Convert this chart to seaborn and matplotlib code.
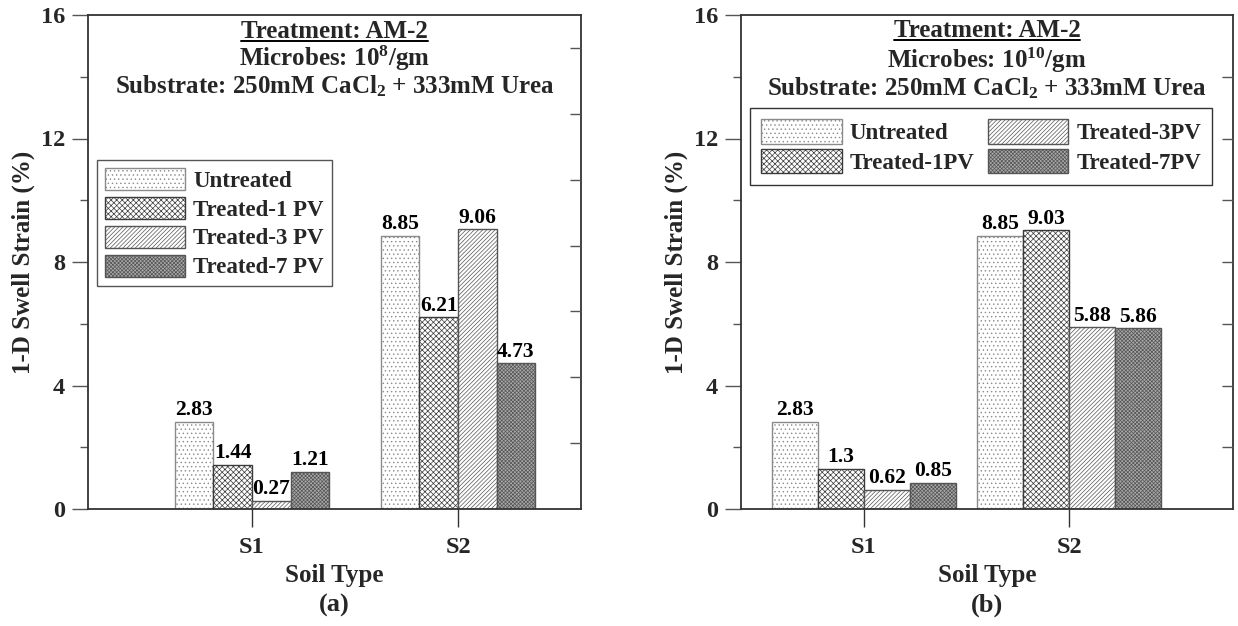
import matplotlib
matplotlib.use('Agg')
import matplotlib.pyplot as plt
import seaborn as sns
import pandas as pd
from matplotlib.lines import Line2D
from matplotlib.ticker import MultipleLocator, FixedLocator

# ---------------- data ----------------
soils = ['S1', 'S2']
labels_a = ['Untreated', 'Treated-1 PV', 'Treated-3 PV', 'Treated-7 PV']
labels_b = ['Untreated', 'Treated-1PV', 'Treated-3PV', 'Treated-7PV']
untreated_a = [2.83, 8.85]
t1_a = [1.44, 6.21]
t3_a = [0.27, 9.06]
t7_a = [1.21, 4.73]
untreated_b = [2.83, 8.85]
t1_b = [1.3, 9.03]
t3_b = [0.62, 5.88]
t7_b = [0.85, 5.86]
yticks = [0, 4, 8, 12, 16]

def make_df(labels, series):
    rows = []
    for lab, vals in zip(labels, series):
        for s, v in zip(soils, vals):
            rows.append({'Soil': s, 'Strain': v, 'Treatment': lab})
    return pd.DataFrame(rows)

df_a = make_df(labels_a, [untreated_a, t1_a, t3_a, t7_a])
df_b = make_df(labels_b, [untreated_b, t1_b, t3_b, t7_b])

# ---------------- style ----------------
sns.set_theme(style='ticks')
plt.rcParams['font.family'] = ['Liberation Serif', 'DejaVu Serif']
plt.rcParams['font.weight'] = 'bold'
plt.rcParams['axes.labelweight'] = 'bold'
plt.rcParams['mathtext.fontset'] = 'custom'
plt.rcParams['mathtext.rm'] = 'Liberation Serif:bold'
plt.rcParams['mathtext.bf'] = 'Liberation Serif:bold'
plt.rcParams['mathtext.it'] = 'Liberation Serif:bold'
plt.rcParams['mathtext.default'] = 'regular'
plt.rcParams['hatch.linewidth'] = 0.5

DARK = '#333333'
hatches = ['....', 'xxxxxx', '////////', 'xxxxxxxxx']
faces = ['white', 'white', 'white', '#a9a9a9']
hatch_edges = ['#8a8a8a', '#3a3a3a', '#555555', '#555555']

fig = plt.figure(figsize=(12.38, 6.26), dpi=100)
W, H = 1238, 626
ax_a = fig.add_axes([88 / W, (H - 509) / H, 493 / W, 494 / H])
ax_b = fig.add_axes([741 / W, (H - 509) / H, 492 / W, 494 / H])

FS_HEAD = 18
FS_TICK = 17.5
FS_LAB = 18
FS_BAR = 15.5
FS_LEG = 16.5


def draw(ax, df, labels, width, xlim, right_max, panel, lines, line_y):
    sns.barplot(data=df, x='Soil', y='Strain', hue='Treatment', hue_order=labels,
                order=soils, palette=faces, saturation=1, width=width, gap=0,
                errorbar=None, legend=False, ax=ax, edgecolor=DARK, linewidth=1.0)
    for i, cont in enumerate(ax.containers):
        for p in cont.patches:
            p.set_hatch(hatches[i])
            p.set_edgecolor(hatch_edges[i])
            p.set_linewidth(1.0)
        ax.bar_label(cont, labels=['%g' % v for v in cont.datavalues],
                     padding=1, fontsize=FS_BAR, fontweight='bold', color='black')
    ax.set_xlim(*xlim)
    ax.set_ylim(0, 16)
    ax.yaxis.set_major_locator(FixedLocator(yticks))
    ax.yaxis.set_minor_locator(MultipleLocator(2))
    ax.tick_params(axis='y', which='major', direction='out', length=11.5, width=1.0,
                   labelsize=FS_TICK, pad=5, color='#555555', right=False)
    ax.tick_params(axis='y', which='minor', direction='out', length=6, width=1.0,
                   color='#555555', right=False)
    ax.tick_params(axis='x', direction='out', length=13, width=1.0, labelsize=FS_TICK,
                   pad=7, color='#333333', top=False)
    for t in ax.get_xticklabels() + ax.get_yticklabels():
        t.set_fontweight('bold')
    for sp in ax.spines.values():
        sp.set_visible(True)
        sp.set_color(DARK)
        sp.set_linewidth(1.3)
    ax.set_ylabel('1-D Swell Strain (%)', fontsize=FS_LAB, fontweight='bold', labelpad=4)
    ax.set_xlabel('Soil Type', fontsize=FS_LAB, fontweight='bold')
    ax.xaxis.set_label_coords(0.5, -0.112)
    ax.text(0.5, -0.195, panel, transform=ax.transAxes, ha='center', va='center',
            fontsize=FS_LAB + 1, fontweight='bold')
    # right side inward ticks
    tw = ax.twinx()
    tw.set_ylim(0, right_max)
    tw.yaxis.set_major_locator(FixedLocator(list(range(2, 15, 2))))
    tw.tick_params(axis='y', direction='in', length=8, width=1.0, color='#555555',
                   labelright=False)
    for sp in tw.spines.values():
        sp.set_visible(False)
    tw.grid(False)
    texts = []
    for s, y in zip(lines, line_y):
        t = ax.text(0.5, y, s, transform=ax.transAxes, ha='center', va='baseline',
                    fontsize=FS_HEAD, fontweight='bold', zorder=5)
        texts.append(t)
    return texts


texts_a = draw(ax_a, df_a, labels_a, 0.75, (-0.796, 1.597), 15, '(a)',
               ['Treatment: AM-2', r'Microbes: 10$^{8}$/gm',
                r'Substrate: 250mM CaCl$_{2}$ + 333mM Urea'],
               [0.953, 0.896, 0.842])
texts_b = draw(ax_b, df_b, labels_b, 0.90, (-0.6, 1.8), 16, '(b)',
               ['Treatment: AM-2', r'Microbes: 10$^{10}$/gm',
                r'Substrate: 250mM CaCl$_{2}$ + 333mM Urea'],
               [0.955, 0.893, 0.838])

leg_a = ax_a.legend(ax_a.containers, labels_a, loc='upper left',
                    bbox_to_anchor=(0.018, 0.7065), borderaxespad=0, ncol=1,
                    fontsize=FS_LEG, handlelength=3.5, handleheight=1.1,
                    labelspacing=0.22, handletextpad=0.35, borderpad=0.35,
                    fancybox=False, framealpha=1, edgecolor='#555555')
leg_b = ax_b.legend(ax_b.containers, labels_b, loc='upper left',
                    bbox_to_anchor=(0.018, 0.812), borderaxespad=0, ncol=2,
                    fontsize=FS_LEG, handlelength=3.5, handleheight=1.25,
                    labelspacing=0.2, handletextpad=0.35, borderpad=0.5,
                    columnspacing=0.6, fancybox=False, framealpha=1,
                    edgecolor='#333333')
for leg in (leg_a, leg_b):
    leg.get_frame().set_linewidth(1.0)
    for t in leg.get_texts():
        t.set_fontweight('bold')

# underline the first heading line (just below its baseline)
fig.canvas.draw()
renderer = fig.canvas.get_renderer()
inv = fig.transFigure.inverted()
for ax, t in ((ax_a, texts_a[0]), (ax_b, texts_b[0])):
    bb = t.get_window_extent(renderer)
    base = ax.transAxes.transform((0.5, t.get_position()[1]))[1] - 3.0
    (x0, y), (x1, _) = inv.transform([[bb.x0, base], [bb.x1, base]])
    fig.add_artist(Line2D([x0, x1], [y, y], transform=fig.transFigure,
                          color='black', linewidth=1.4))

fig.savefig('out.png', dpi=100)
